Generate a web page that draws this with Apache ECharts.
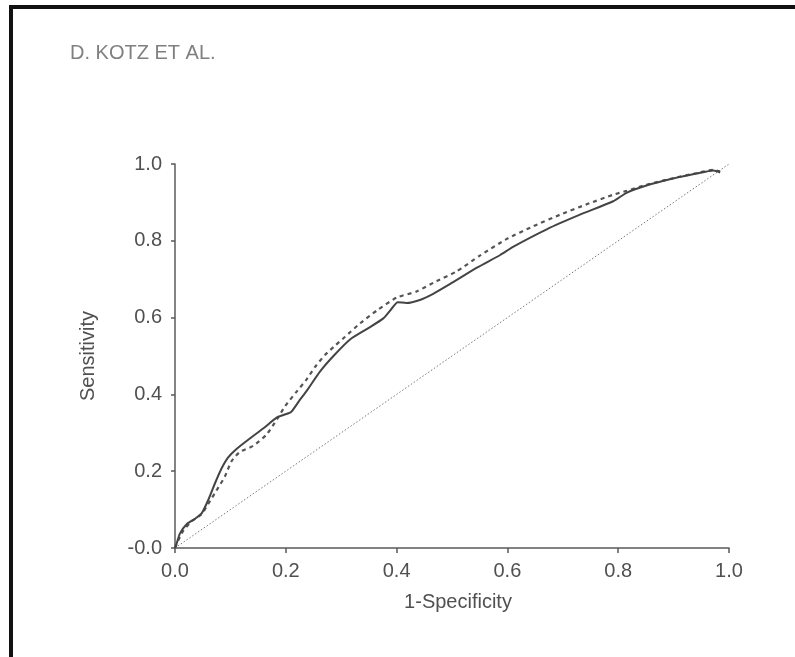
<!DOCTYPE html>
<html>
<head>
<meta charset="utf-8">
<script src="https://cdn.jsdelivr.net/npm/echarts@6/dist/echarts.min.js"></script>
<style>
  html, body { margin: 0; padding: 0; background: #fff; }
  #chart { width: 795px; height: 657px; }
</style>
</head>
<body>
<div id="chart"></div>
<script>
// ROC curves: sensitivity vs 1-specificity for two scores, plus the chance line
const xTickLabels = ['0.0', '0.2', '0.4', '0.6', '0.8', '1.0'];
const yTickLabels = ['-0.0', '0.2', '0.4', '0.6', '0.8', '1.0'];

// solid curve, [1-specificity, sensitivity]
const solidCurve = [
  [0, 0], [0.003, 0.012], [0.009, 0.038], [0.021, 0.062], [0.036, 0.076],
  [0.048, 0.09], [0.06, 0.125], [0.072, 0.168], [0.084, 0.207], [0.096, 0.236],
  [0.111, 0.258], [0.135, 0.285], [0.159, 0.311], [0.184, 0.34], [0.197, 0.347],
  [0.21, 0.355], [0.225, 0.385], [0.238, 0.41], [0.262, 0.46], [0.286, 0.5],
  [0.316, 0.543], [0.346, 0.57], [0.376, 0.598], [0.392, 0.625], [0.402, 0.64],
  [0.418, 0.638], [0.442, 0.646], [0.466, 0.662], [0.496, 0.687], [0.545, 0.73],
  [0.587, 0.763], [0.611, 0.785], [0.671, 0.83], [0.731, 0.868], [0.791, 0.903],
  [0.815, 0.925], [0.851, 0.944], [0.899, 0.962], [0.941, 0.975], [0.972, 0.983],
  [0.984, 0.978]
];

// dashed curve, [1-specificity, sensitivity]
const dashedCurve = [
  [0, 0], [0.006, 0.02], [0.015, 0.045], [0.03, 0.07], [0.048, 0.088],
  [0.06, 0.115], [0.075, 0.15], [0.09, 0.186], [0.102, 0.226], [0.117, 0.25],
  [0.141, 0.266], [0.165, 0.295], [0.184, 0.335], [0.199, 0.37], [0.22, 0.408],
  [0.238, 0.44], [0.253, 0.472], [0.271, 0.503], [0.289, 0.527], [0.307, 0.55],
  [0.334, 0.585], [0.364, 0.618], [0.4, 0.652], [0.436, 0.668], [0.472, 0.695],
  [0.508, 0.72], [0.551, 0.762], [0.599, 0.805], [0.647, 0.838], [0.695, 0.868],
  [0.743, 0.895], [0.791, 0.92], [0.815, 0.93], [0.851, 0.946], [0.899, 0.963],
  [0.941, 0.976], [0.972, 0.985], [0.984, 0.98]
];

// reference line of no discrimination
const chanceLine = [[0, 0], [1, 1]];

const FONT = '"Liberation Sans", Arial, sans-serif';
const TEXT = '#505050';
const AXIS = '#5a5a5a';

const chart = echarts.init(document.getElementById('chart'), null, { renderer: 'canvas' });

chart.setOption({
  backgroundColor: '#fff',
  animation: false,
  title: {
    text: 'D. KOTZ ET AL.',
    left: 65,
    top: 38,
    textStyle: { fontFamily: FONT, fontSize: 20, fontWeight: 'normal', color: '#808080' }
  },
  grid: { left: 175, right: 66, top: 164, bottom: 109 },
  xAxis: {
    type: 'value',
    min: 0, max: 1, interval: 0.2,
    name: '1-Specificity',
    nameLocation: 'middle',
    nameGap: 44,
    nameTextStyle: { fontFamily: FONT, fontSize: 20, color: TEXT, padding: [0, 0, 0, 12] },
    axisLine: { show: true, lineStyle: { color: AXIS, width: 1.5 } },
    axisTick: { show: true, inside: false, length: 5, lineStyle: { color: AXIS, width: 1.5 } },
    axisLabel: {
      margin: 13, fontFamily: FONT, fontSize: 20, color: TEXT,
      formatter: (v) => xTickLabels[Math.round(v / 0.2)]
    },
    splitLine: { show: false }
  },
  yAxis: {
    type: 'value',
    min: 0, max: 1, interval: 0.2,
    name: 'Sensitivity',
    nameLocation: 'middle',
    nameGap: 77,
    nameTextStyle: { fontFamily: FONT, fontSize: 20, color: TEXT },
    axisLine: { show: true, lineStyle: { color: AXIS, width: 1.5 } },
    axisTick: { show: true, inside: false, length: 4, lineStyle: { color: AXIS, width: 1.5 } },
    axisLabel: {
      margin: 13, fontFamily: FONT, fontSize: 20, color: TEXT,
      formatter: (v) => yTickLabels[Math.round(v / 0.2)]
    },
    splitLine: { show: false }
  },
  series: [
    {
      name: 'chance',
      type: 'line',
      data: chanceLine,
      symbol: 'none',
      lineStyle: { color: '#777', width: 1, type: [1.5, 2] },
      z: 1
    },
    {
      name: 'dashed',
      type: 'line',
      data: dashedCurve,
      symbol: 'none',
      smooth: 0.2,
      lineStyle: { color: '#555', width: 2.2, type: [4, 4] },
      z: 2
    },
    {
      name: 'solid',
      type: 'line',
      data: solidCurve,
      symbol: 'none',
      smooth: 0.2,
      lineStyle: { color: '#444', width: 2 },
      z: 3
    }
  ],
  graphic: [
    // page frame: top and left rules
    { type: 'rect', shape: { x: 9, y: 5, width: 786, height: 4 }, style: { fill: '#111' }, silent: true },
    { type: 'rect', shape: { x: 9, y: 5, width: 4, height: 652 }, style: { fill: '#111' }, silent: true }
  ]
});
</script>
</body>
</html>
